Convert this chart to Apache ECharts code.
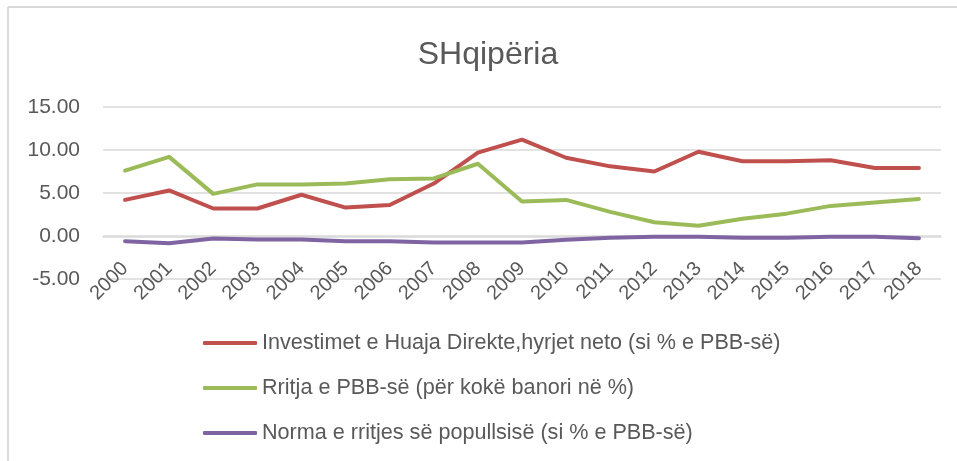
<!DOCTYPE html>
<html>
<head>
<meta charset="utf-8">
<title>SHqipëria</title>
<script src="https://cdn.jsdelivr.net/npm/echarts@6/dist/echarts.min.js"></script>
<style>
  html, body { margin: 0; padding: 0; background: #fff; }
  #chart { width: 957px; height: 461px; }
</style>
</head>
<body>
<div id="chart"></div>
<script>
  // vitet
  var years = ['2000', '2001', '2002', '2003', '2004', '2005', '2006', '2007', '2008', '2009',
    '2010', '2011', '2012', '2013', '2014', '2015', '2016', '2017', '2018']

  // Investimet e Huaja Direkte
  var ihd = [4.2, 5.3, 3.2, 3.2, 4.8, 3.3, 3.6, 6.1, 9.7, 11.2,
    9.1, 8.1, 7.5, 9.8, 8.7, 8.7, 8.8, 7.9, 7.9]
  // Rritja e PBB-se per banor
  var rritjaPBB = [7.6, 9.2, 4.9, 6.0, 6.0, 6.1, 6.6, 6.7, 8.4, 4.0,
    4.2, 2.8, 1.6, 1.2, 2.0, 2.6, 3.5, 3.9, 4.3]
  // Norma e rritjes se popullsise
  var popullsia = [-0.6, -0.85, -0.3, -0.4, -0.4, -0.6, -0.6, -0.75, -0.75, -0.75,
    -0.45, -0.2, -0.1, -0.1, -0.2, -0.2, -0.1, -0.1, -0.25]

  var seriesNames = [
    'Investimet e Huaja Direkte,hyrjet neto (si % e PBB-së)',
    'Rritja e PBB-së (për kokë banori në %)',
    'Norma e rritjes së popullsisë (si % e PBB-së)'
  ]

  var yTicks = { min: -5, max: 15, interval: 5 }

  var gri = '#595959'
  var chart = echarts.init(document.getElementById('chart'))

  function seri (name, data, color) {
    return {
      name: name,
      type: 'line',
      data: data,
      symbol: 'none',
      smooth: false,
      lineStyle: { width: 4, color: color, cap: 'round', join: 'round' },
      itemStyle: { color: color }
    }
  }

  var option = {
    backgroundColor: '#fff',
    animation: false,
    textStyle: { fontFamily: 'Liberation Sans, Arial, sans-serif' },
    title: {
      text: 'SHqipëria',
      left: 483,
      top: 34,
      textAlign: 'center',
      textStyle: { color: gri, fontSize: 32, fontWeight: 'normal', fontFamily: 'Liberation Sans' }
    },
    // kornizë e grafikut (lart dhe majtas)
    graphic: [
      { type: 'line', shape: { x1: 8, y1: 7, x2: 957, y2: 7 }, style: { stroke: '#d9d9d9', lineWidth: 2 } },
      { type: 'line', shape: { x1: 8, y1: 7, x2: 8, y2: 461 }, style: { stroke: '#d9d9d9', lineWidth: 2 } }
    ],
    grid: { left: 103, right: 16, top: 107, bottom: 182, containLabel: false },
    legend: {
      orient: 'vertical',
      left: 203,
      top: 331,
      padding: 0,
      icon: 'roundRect',
      itemWidth: 54,
      itemHeight: 4,
      itemGap: 21,
      data: seriesNames,
      textStyle: { color: gri, fontSize: 21.6, lineHeight: 24, fontFamily: 'Liberation Sans' }
    },
    xAxis: {
      type: 'category',
      data: years,
      boundaryGap: true,
      // boshti kalon te 0.00, jo poshtë
      offset: -42.6,
      axisLine: { onZero: false, lineStyle: { color: '#d9d9d9', width: 1.5 } },
      axisTick: { show: false },
      axisLabel: { rotate: 45, margin: 29, interval: 0, color: gri, fontSize: 20, fontFamily: 'Liberation Sans' }
    },
    yAxis: {
      type: 'value',
      min: yTicks.min,
      max: yTicks.max,
      interval: yTicks.interval,
      axisLine: { show: false },
      axisTick: { show: false },
      axisLabel: {
        color: gri,
        fontSize: 21,
        margin: 23,
        fontFamily: 'Liberation Sans',
        formatter: function (v) { return v.toFixed(2) }
      },
      splitLine: { lineStyle: { color: '#d9d9d9', width: 1.5 } }
    },
    series: [
      seri(seriesNames[0], ihd, '#c0504d'),
      seri(seriesNames[1], rritjaPBB, '#9bbb59'),
      seri(seriesNames[2], popullsia, '#8064a2')
    ]
  }

  chart.setOption(option)
</script>
</body>
</html>
